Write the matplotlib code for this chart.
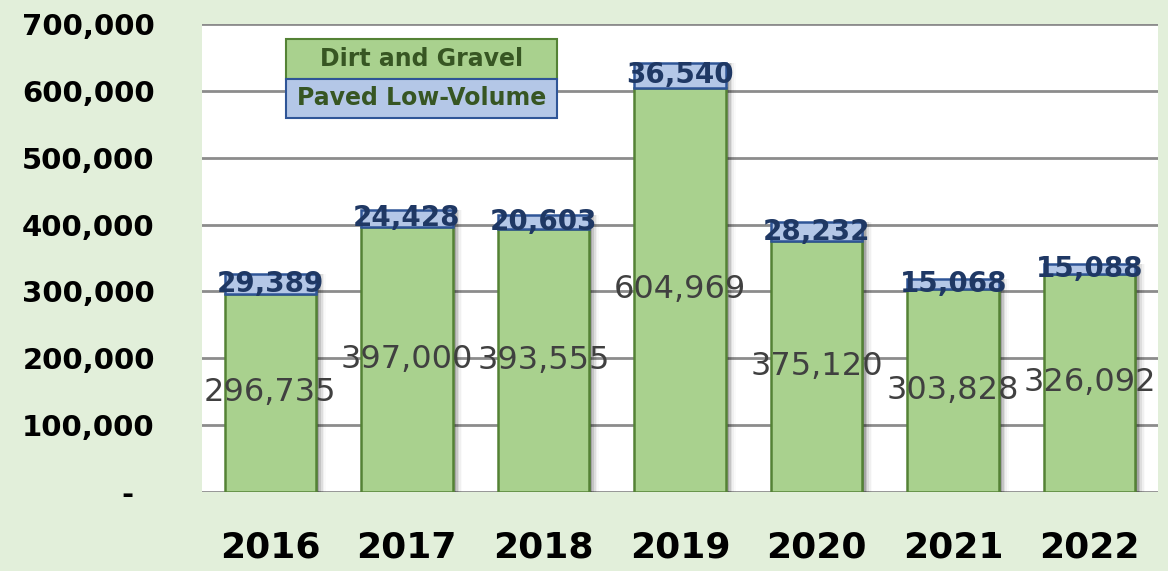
import matplotlib.pyplot as plt
from matplotlib.patches import Rectangle

years = ['2016', '2017', '2018', '2019', '2020', '2021', '2022']
dirt_gravel = [296735, 397000, 393555, 604969, 375120, 303828, 326092]
paved_low = [29389, 24428, 20603, 36540, 28232, 15068, 15088]
y_ticks = [0, 100000, 200000, 300000, 400000, 500000, 600000, 700000]

bg = '#E2EFDA'
green = '#A9D18E'
green_edge = '#548235'
blue = '#B4C7E7'
blue_edge = '#2F5597'

fig = plt.figure(figsize=(11.68, 5.71), dpi=100, facecolor=bg)
ax = fig.add_axes([202 / 1168, 1 - 492 / 571, 956 / 1168, 468 / 571])
ax.set_facecolor('white')

x = list(range(len(years)))
width = 0.67

# soft shadow on the right of each bar
totals = [d + p for d, p in zip(dirt_gravel, paved_low)]
for i, a in enumerate([0.22, 0.16, 0.11, 0.07, 0.04, 0.02]):
    off = 0.012 * (i + 1)
    ax.bar([v + off for v in x], totals, width, color='black', alpha=a,
           linewidth=0, zorder=2)

ax.bar(x, dirt_gravel, width, color=green, edgecolor=green_edge,
       linewidth=1.8, zorder=3)
ax.bar(x, paved_low, width, bottom=dirt_gravel, color=blue,
       edgecolor=blue_edge, linewidth=1.8, zorder=3)

for i in x:
    ax.text(i, dirt_gravel[i] / 2, f'{dirt_gravel[i]:,}', ha='center',
            va='center', fontsize=23, color='#404040', zorder=5)
    ax.text(i, dirt_gravel[i] + paved_low[i] / 2, f'{paved_low[i]:,}',
            ha='center', va='center', fontsize=20, fontweight='bold',
            color='#1F3864', zorder=5)

ax.set_xlim(-0.5, len(years) - 0.5)
ax.set_ylim(0, 700000)
ax.set_yticks(y_ticks)
ax.set_yticklabels([f'{v:,}' if v else '-  ' for v in y_ticks],
                   fontsize=21, fontweight='bold')
ax.set_xticks(x)
ax.set_xticklabels(years, fontsize=26, fontweight='bold')
ax.tick_params(axis='y', length=0, pad=34)
ax.tick_params(axis='x', length=0, pad=28)
ax.grid(axis='y', color='#8C8C8C', linewidth=2, zorder=0)
ax.set_axisbelow(True)
for s in ax.spines.values():
    s.set_visible(False)

# legend drawn as two stacked boxes
lx, lw, lh = 286, 271, 39.5
for j, (label, fc, ec) in enumerate([('Dirt and Gravel', green, green_edge),
                                     ('Paved Low-Volume', blue, blue_edge)]):
    top = 39 + j * lh
    fig.patches.append(Rectangle((lx / 1168, 1 - (top + lh) / 571),
                                 lw / 1168, lh / 571, facecolor=fc,
                                 edgecolor=ec, linewidth=1.5,
                                 transform=fig.transFigure, zorder=6))
    fig.text((lx + lw / 2) / 1168, 1 - (top + lh / 2) / 571, label,
             ha='center', va='center', fontsize=17, fontweight='bold',
             color='#375623', zorder=7)

fig.savefig('out.png', dpi=100, facecolor=bg)
